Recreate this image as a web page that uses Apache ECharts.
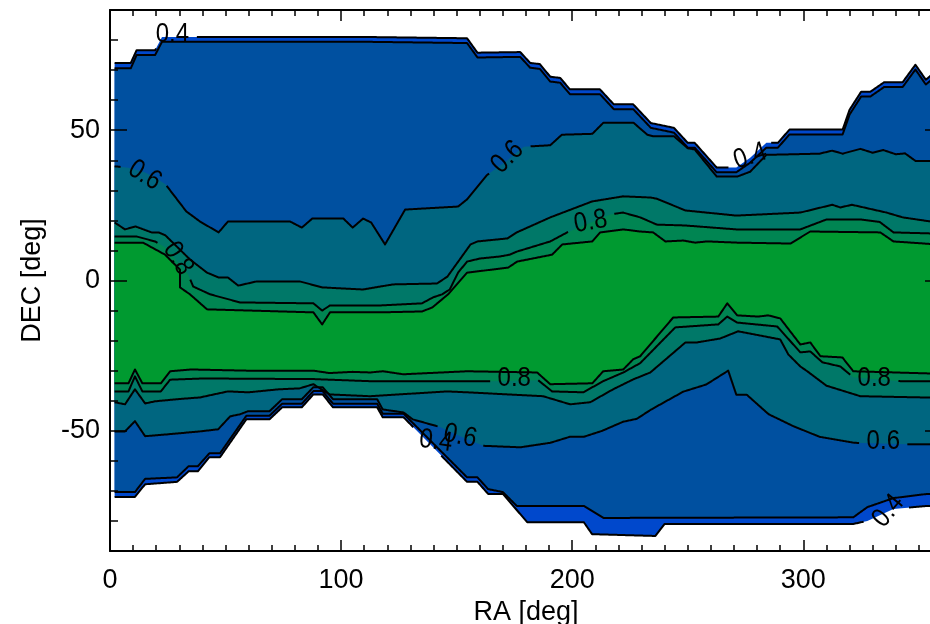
<!DOCTYPE html>
<html><head><meta charset="utf-8">
<script src="https://cdn.jsdelivr.net/npm/echarts@6/dist/echarts.min.js"></script>
<style>html,body{margin:0;padding:0;background:#fff}#c{width:930px;height:624px}</style>
</head><body><div id="c"></div>
<script>
// ---- contour boundaries: [RA deg, DEC deg] vertices ----
// northern boundary of each filled level (0.4, 0.5, 0.6, 0.7, 0.8, 0.9)
const north0 = [[2,72.4],[9,72.4],[11.5,76.6],[19.5,76.6],[22.5,81],[113,81],[154.5,80.6],[159,75.8],[177.5,76],[181.8,72.4],[186,72],[190.5,67.8],[194.8,67.4],[199,63.6],[212,63.6],[218,58.6],[226.4,58.6],[234,52.4],[244,50.8],[250,45.8],[253,45.8],[262.5,37.6],[271,37.6],[277,40.8],[284,45.8],[289,45.8],[294,50.2],[317,50.2],[320,56.8],[325,62.8],[329,62.8],[335,66],[343,66],[348.5,71.8],[353,66.8],[358,70]];
const north4 = [[2,70.6],[9,70.6],[11.5,75],[19.5,75],[22.5,79.4],[113,79.4],[154.5,79],[159,74.2],[177.5,74.4],[181.8,70.8],[186,70.4],[190.5,66.2],[194.8,65.8],[199,62],[212,62],[218,57],[226.4,57],[234,50.8],[244,49.2],[250,44.2],[253,44.2],[262.5,36],[271,36],[277,39.2],[284,44.2],[289,44.2],[294,48.6],[317,48.6],[320,55.2],[325,61.2],[329,61.2],[335,64.4],[343,64.4],[348.5,70.2],[353,65.2],[358,68.4]];
const north6 = [[2,38],[8,37.5],[15,36],[20,34],[24,32],[33,23],[39,19.6],[47,16],[51,19.6],[78,19.6],[83,17.6],[87.5,20.6],[101,20.6],[105,17.6],[109.5,20.6],[113,19.3],[119,12],[127.7,23.6],[150.6,24.6],[154.5,27],[163,35],[172,40],[179,44.5],[190.5,45],[195.5,48.5],[208.7,48.8],[213.5,52.5],[226.5,52.5],[232.5,48.5],[235,48],[244,48],[250,44],[253,43.6],[262.5,34.6],[271.5,34.6],[277,36.2],[284,41.8],[307,42.2],[312.5,43.2],[317,42.2],[324.7,43.8],[330,42.5],[334.6,43.4],[340,42],[344,42.3],[348.5,39.8],[358,39.8]];
const north7 = [[2,19.3],[6.5,17],[11,18],[18,16],[21,16],[24,15],[34.6,7],[42,2.6],[47,1],[51,1],[55.5,-1.7],[63.5,-0.3],[82,-0.3],[92,-2.3],[109.5,-3],[117,-2],[122.5,-1.3],[141.5,-1],[146,1.3],[156,12],[159,13],[172,14],[176,16],[190.5,21],[208.6,26.3],[222,28],[234,27.6],[236.6,27.2],[249,23.3],[271,21.6],[298.7,22.6],[312.5,25.2],[316,24.3],[321,25.2],[336,22.6],[343,21],[358,19.3]];
const north8 = [[2,14.6],[11.7,14.6],[19.5,13],[24,11],[33.8,2],[36,-2],[43.3,-4.6],[56.3,-7.3],[88,-7.6],[91.8,-10],[95.2,-8.3],[116.9,-8.3],[135,-7.6],[139.8,-5.6],[143.7,-4.6],[147,-3],[150.6,2.6],[154.5,6.3],[160,7.3],[168.8,8],[173,8.6],[176,9.6],[190.5,13],[197.8,16],[216.5,22],[222,22.6],[229.4,21],[236.6,18.6],[249,18.3],[271,17],[298.7,17],[310,20.3],[324.7,20.3],[333,19.5],[339,16],[358,15.6]];
const north9 = [[2,12.6],[14.3,12.6],[23.8,8.6],[30.3,3.6],[30.3,-2.3],[34.6,-4.6],[42,-9.6],[88,-10.6],[91.8,-14.6],[95.2,-10.6],[116.9,-10.6],[135,-10.3],[139.4,-9],[146.3,-4.6],[154.5,2.6],[172.3,4.3],[176.2,6.3],[191.3,8.6],[195.7,12],[208.7,13],[212.1,16],[222.1,17],[229.4,16.3],[235,16],[240.3,13],[248,13.3],[253.2,12.6],[258.4,13],[271.4,12.6],[294.4,12.3],[298.7,14.3],[303,16.3],[333.3,16],[339,13],[358,12]];
// southern boundary of each filled level
const south0 = [[2,-72],[10.8,-72],[15.2,-67.8],[29,-67],[34,-63.5],[38,-63.5],[43,-58.8],[47.6,-58.8],[59,-46.2],[69,-46.2],[74.5,-42.2],[83,-42.2],[88,-37.9],[92,-37.9],[96.5,-42.2],[115.6,-42.2],[118,-45.5],[127,-45.5],[154.5,-67],[159,-67],[163.6,-71],[170,-71],[180.5,-80.4],[205,-80.4],[208.6,-84.4],[236,-85],[240,-81],[321.6,-81],[327.7,-80],[339,-76],[353.7,-75],[358,-75]];
const south4 = [[2,-70.4],[10.8,-70.4],[15.2,-66],[29,-65.5],[34,-61.8],[38,-61.8],[43,-57.5],[47.6,-57.5],[59,-45],[69,-45],[74.5,-41],[83,-41],[88,-36.8],[92,-36.8],[96.5,-41],[115.6,-41],[118,-44.3],[127,-44.3],[154.5,-65.5],[159,-65.5],[163.6,-69.4],[170,-70.4],[176,-75],[205,-75],[213.5,-79],[321.6,-78.8],[327.7,-75.4],[339,-72.4],[353.7,-71],[358,-71]];
const south6 = [[2,-50.2],[6.5,-50.2],[10.8,-46.8],[15.2,-51.8],[24.7,-51.2],[39,-50.2],[46.8,-49.5],[52,-45.2],[56.3,-44.5],[59.7,-43.5],[69,-43.5],[74.5,-39.5],[83,-39.5],[88,-35.5],[92,-35.5],[96.5,-39.5],[115.6,-39.5],[118,-42.9],[127,-43.9],[131,-46.2],[143,-48.8],[152,-52],[161.5,-55],[177.5,-55.5],[190.5,-54],[199,-52],[205,-52],[213,-50],[222,-47],[228,-46],[234,-43],[248,-37],[258,-34.6],[267.5,-30],[271,-38],[275.5,-38],[285,-44.5],[295.5,-48.4],[307,-52],[322,-54],[345,-54.5],[358,-54.5]];
const south7 = [[2,-40.5],[6.5,-41.2],[10.8,-36.2],[15.2,-40.9],[19.5,-40.2],[29,-39.5],[39,-38.9],[51,-36.9],[60,-37.2],[73,-36.2],[82,-35.9],[88,-34.5],[95,-37.9],[112.5,-38.5],[145.9,-36.9],[154.5,-37.2],[187.4,-38.5],[199.1,-41.2],[207.8,-40.5],[217.7,-36.2],[226.4,-32.9],[233.8,-30.6],[249,-20.6],[254,-20.6],[264,-19.3],[271.8,-16.9],[290,-19.6],[293.5,-24.6],[298.7,-28.6],[301.7,-30.2],[310,-35],[324.7,-38.5],[358,-39]];
const south8 = [[2,-36.9],[8,-36.9],[10.8,-31.9],[14,-36.9],[22,-36.9],[26,-33],[40,-32.6],[88,-32.8],[112.5,-33.5],[164.5,-33.5],[185.3,-33.2],[191.3,-36.9],[204.8,-37.2],[213.4,-33.5],[222.1,-30.6],[229.4,-27.5],[244.6,-15.6],[263.2,-14.6],[267.1,-12],[271.4,-14],[288.7,-15.3],[298.7,-23.9],[303,-23.6],[308.2,-27.2],[316,-28.6],[321.6,-32.2],[342,-33.5],[358,-33.5]];
const south9 = [[2,-34.2],[8,-34.2],[10.8,-29.6],[14,-34.2],[22,-34.2],[26,-30.2],[35,-29.6],[60,-30],[88,-30],[95,-30.8],[105,-30.4],[112.5,-30.6],[118.2,-30.2],[126.8,-31.2],[154.5,-30.2],[184.8,-30.6],[190.5,-34.5],[208.7,-34.2],[213.4,-30.2],[222.1,-29.6],[226.4,-26.2],[229.4,-25.2],[243.7,-12.3],[263.2,-12],[267.1,-7.6],[271.4,-11.6],[280.5,-12],[284.8,-11.6],[290,-12.6],[298.7,-21.3],[303,-20.6],[307.4,-25.2],[316.9,-25.6],[321.6,-30.2],[358,-31]];

// contour labels: [RA, DEC, text, rotation(deg)]
const contourLabels = [
  [27, 81.8, '0.4', 0],
  [15, 35, '0.6', -32],
  [29.4, 7.3, '0.8', -58],
  [172, 41, '0.6', 45],
  [208, 19.5, '0.8', 10],
  [277, 41.3, '0.4', 18],
  [174.9, -32.6, '0.8', 0],
  [141, -53.5, '0.4', -8],
  [151.5, -51.8, '0.6', -12],
  [330.7, -32.6, '0.8', 0],
  [334.6, -53.5, '0.6', 0],
  [336.8, -76.7, '0.4', 50]
];
// index (into allLines) of the contour each label sits on
const labelOnLine = [0, 2, 4, 2, 4, 0, 10, 6, 8, 10, 8, 6];

const xTicks = [0, 100, 200, 300];
const yTicks = [-50, 0, 50];

const northBounds = [north0, north4, north6, north7, north8, north9];
const southBounds = [south0, south4, south6, south7, south8, south9];
const fillColors = ['#0048cc', '#0050a0', '#006680', '#007868', '#008552', '#009a30'];

const FONT = 'Liberation Sans, Arial, Helvetica, sans-serif';
const LABEL_SIZE = 24;

function fillItem(params, api) {
  const k = params.dataIndex;
  const up = northBounds[k].map(p => api.coord(p));
  const lo = southBounds[k].slice().reverse().map(p => api.coord(p));
  return { type: 'polygon', shape: { points: up.concat(lo) }, style: { fill: fillColors[k] } };
}
const allLines = northBounds.concat(southBounds);
function lineItem(params, api) {
  const li = params.dataIndex;
  const pts = allLines[li].map(p => api.coord(p));
  const cuts = [];
  contourLabels.forEach((d, j) => {
    if (labelOnLine[j] !== li) return;
    const c = api.coord([d[0], d[1]]);
    cuts.push({ cx: c[0], cy: c[1], a: d[3] * Math.PI / 180, hw: 24, hh: 13 });
  });
  const inside = (x, y) => cuts.some(c => {
    const dx = x - c.cx, dy = y - c.cy;
    const u = dx * Math.cos(c.a) - dy * Math.sin(c.a);
    const v = dx * Math.sin(c.a) + dy * Math.cos(c.a);
    return Math.abs(u) < c.hw && Math.abs(v) < c.hh;
  });
  const runs = [];
  let cur = [];
  const push = (x, y) => {
    if (inside(x, y)) { if (cur.length > 1) runs.push(cur); cur = []; }
    else cur.push([x, y]);
  };
  for (let i = 0; i < pts.length - 1; i++) {
    const x0 = pts[i][0], y0 = pts[i][1], x1 = pts[i + 1][0], y1 = pts[i + 1][1];
    const n = Math.max(1, Math.ceil(Math.hypot(x1 - x0, y1 - y0)));
    for (let s = 0; s < n; s++) push(x0 + (x1 - x0) * s / n, y0 + (y1 - y0) * s / n);
  }
  const last = pts[pts.length - 1];
  push(last[0], last[1]);
  if (cur.length > 1) runs.push(cur);
  return { type: 'group', children: runs.map(r => ({ type: 'polyline', shape: { points: r },
    style: { stroke: '#000', lineWidth: 2, fill: null, lineJoin: 'round' } })) };
}
function labelItem(params, api) {
  const d = contourLabels[params.dataIndex];
  const c = api.coord([d[0], d[1]]);
  return { type: 'text', x: c[0], y: c[1], rotation: d[3] * Math.PI / 180, scaleY: 1.15,
    style: { text: d[2], fill: '#000', fontSize: LABEL_SIZE, fontFamily: FONT, align: 'center', verticalAlign: 'middle' } };
}

function axisLine() { return { onZero: false, lineStyle: { color: '#000', width: 2 } }; }

const chart = echarts.init(document.getElementById('c'), null, { renderer: 'canvas' });
chart.setOption({
  animation: false,
  backgroundColor: '#fff',
  grid: { left: 110, top: 10, right: -12, bottom: 73, containLabel: false, outerBoundsMode: 'none' },
  xAxis: [
    {
      type: 'value', position: 'bottom', min: 0, max: 360, interval: 100, z: 10,
      axisLine: axisLine(), splitLine: { show: false },
      axisTick: { inside: true, length: 11, lineStyle: { color: '#000', width: 1.5 } },
      minorTick: { show: true, splitNumber: 10, length: 6, lineStyle: { color: '#000', width: 1.5 } },
      axisLabel: { color: '#000', fontSize: 27, fontFamily: FONT, margin: 16, showMaxLabel: false,
        formatter: v => xTicks.indexOf(v) >= 0 ? String(v) : '' },
      name: 'RA [deg]', nameLocation: 'middle', nameGap: 46,
      nameTextStyle: { color: '#000', fontSize: 27, fontFamily: FONT }
    },
    {
      type: 'value', position: 'top', min: 0, max: 360, interval: 100, z: 10,
      axisLine: axisLine(), splitLine: { show: false },
      axisTick: { inside: true, length: 11, lineStyle: { color: '#000', width: 1.5 } },
      minorTick: { show: true, splitNumber: 10, length: 6, lineStyle: { color: '#000', width: 1.5 } },
      axisLabel: { show: false }
    }
  ],
  yAxis: [
    {
      type: 'value', position: 'left', min: -90, max: 90, minInterval: 50, maxInterval: 50, z: 10,
      axisLine: axisLine(), splitLine: { show: false },
      axisTick: { inside: true, length: 17, lineStyle: { color: '#000', width: 1.5 } },
      minorTick: { show: true, splitNumber: 5, length: 8, lineStyle: { color: '#000', width: 1.5 } },
      axisLabel: { color: '#000', fontSize: 27, fontFamily: FONT, margin: 10, showMinLabel: false, showMaxLabel: false,
        formatter: v => yTicks.indexOf(v) >= 0 ? String(v) : '' },
      name: 'DEC [deg]', nameLocation: 'middle', nameGap: 64, nameRotate: 90,
      nameTextStyle: { color: '#000', fontSize: 27, fontFamily: FONT }
    },
    {
      type: 'value', position: 'right', min: -90, max: 90, minInterval: 50, maxInterval: 50, z: 10,
      axisLine: axisLine(), splitLine: { show: false },
      axisTick: { inside: true, length: 17, lineStyle: { color: '#000', width: 1.5 } },
      minorTick: { show: true, splitNumber: 5, length: 8, lineStyle: { color: '#000', width: 1.5 } },
      axisLabel: { show: false }
    }
  ],
  series: [
    { type: 'custom', name: 'fills', renderItem: fillItem, data: fillColors.map(() => [0, 0]), z: 1, silent: true },
    { type: 'custom', name: 'contours', renderItem: lineItem, data: allLines.map(() => [0, 0]), z: 2, silent: true },
    { type: 'custom', name: 'labels', renderItem: labelItem, data: contourLabels.map(d => [d[0], d[1]]), z: 3, silent: true }
  ]
});
</script>
</body></html>
